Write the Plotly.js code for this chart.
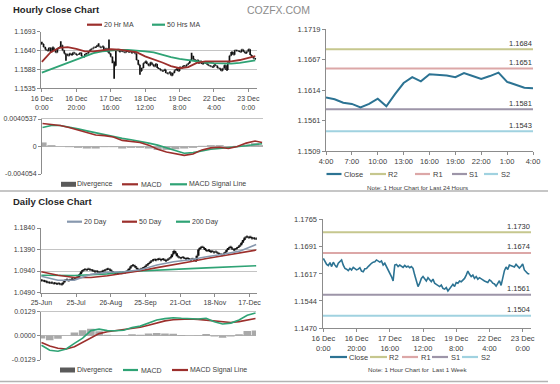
<!DOCTYPE html>
<html><head><meta charset="utf-8">
<script src="https://cdn.plot.ly/plotly-3.0.1.min.js"></script>
<style>html,body{margin:0;padding:0;background:#fff;}#chart{width:560px;height:384px;}</style>
</head><body><div id="chart"></div>
<script>
// ---------------- DATA ----------------
// Hourly closes, 16 Dec 0:00 .. 23 Dec 4:00 (trading hours)
const hourlyClose = [
1.1659,1.1650,1.1643,1.1640,1.1648,1.1637,1.1649,1.1641,1.1635,1.1646,
1.1650,1.1655,1.1641,1.1632,1.1630,1.1626,1.1632,1.1628,1.1635,1.1632,
1.1628,1.1630,1.1634,1.1625,1.1623,1.1631,1.1632,1.1637,1.1643,1.1646,
1.1649,1.1650,1.1655,1.1652,1.1649,1.1652,1.1641,1.1646,1.1637,1.1632,
1.1623,1.1610,1.1598,1.1641,1.1643,1.1637,1.1641,1.1637,1.1635,1.1640,
1.1636,1.1638,1.1634,1.1637,1.1632,1.1614,1.1601,1.1583,1.1592,1.1605,
1.1610,1.1603,1.1598,1.1607,1.1601,1.1596,1.1603,1.1592,1.1589,1.1585,
1.1583,1.1587,1.1578,1.1576,1.1580,1.1571,1.1578,1.1585,1.1589,1.1583,
1.1594,1.1592,1.1598,1.1596,1.1601,1.1605,1.1614,1.1625,1.1616,1.1610,
1.1614,1.1605,1.1610,1.1603,1.1607,1.1605,1.1601,1.1598,1.1596,1.1594,
1.1601,1.1598,1.1592,1.1590,1.1584,1.1590,1.1599,1.1586,1.1607,1.1626,
1.1636,1.1629,1.1641,1.1640,1.1639,1.1636,1.1643,1.1638,1.1633,1.1638,
1.1644,1.1628,1.1623,1.1618,1.1617];
// bar extremes that reach beyond open/close
const hWickIdx = [0, 11, 14, 33, 39, 41, 42, 57, 87];
const hWickHigh = [1.1665, 1.1666, null, 1.1661, 1.1671, null, null, null, 1.1634];
const hWickLow  = [null, null, 1.1612, null, null, 1.1605, 1.1562, 1.1573, null];

const hourTickIdx = [0,20,40,60,80,100,120];
const hourTickText = ['16 Dec<br>0:00','16 Dec<br>20:00','17 Dec<br>16:00','18 Dec<br>12:00','19 Dec<br>8:00','22 Dec<br>4:00','23 Dec<br>0:00'];

const hMaIdx = [0,5,10,15,20,25,30,35,40,45,50,55,60,65,70,75,80,85,90,95,100,105,110,115,120,124];
const ma20h = [1.1609,1.1635,1.1648,1.1650,1.1645,1.1638,1.1638,1.1642,1.1644,1.1643,1.1640,1.1636,1.1624,1.1616,1.1607,1.1597,1.1591,1.1594,1.1606,1.1610,1.1610,1.1608,1.1610,1.1614,1.1621,1.1625];
const ma50h = [1.1579,1.1588,1.1597,1.1607,1.1616,1.1626,1.1633,1.1638,1.1641,1.1642,1.1642,1.1641,1.1638,1.1635,1.1628,1.1622,1.1617,1.1613,1.1610,1.1607,1.1605,1.1604,1.1604,1.1606,1.1609,1.1613];
const macdH = [0.0034,0.0033,0.0031,0.0028,0.0024,0.0020,0.0017,0.0016,0.0014,0.0009,0.0007,0.0006,0.0002,-0.0004,-0.0008,-0.0011,-0.0013,-0.0011,-0.0005,-0.0002,-0.0001,-0.0003,0.0000,0.0005,0.0008,0.0006];
const signalH = [0.0028,0.0031,0.0031,0.0029,0.0026,0.0023,0.0020,0.0017,0.0015,0.0012,0.0010,0.0008,0.0005,0.0002,-0.0002,-0.0007,-0.0010,-0.0009,-0.0006,-0.0004,-0.0003,-0.0002,-0.0001,0.0001,0.0003,0.0004];
const divergenceH = [0.0006,0.0002,0.0000,-0.0001,-0.0002,-0.0003,-0.0003,-0.0001,-0.0001,-0.0003,-0.0002,-0.0002,-0.0003,-0.0005,-0.0005,-0.0004,-0.0003,-0.0002,0.0001,0.0002,0.0002,-0.0001,0.0001,0.0003,0.0005,0.0002];

const last24TickIdx = [0,3,6,9,12,15,18,21,24];
const last24TickText = ['4:00','7:00','10:00','13:00','16:00','19:00','22:00','1:00','4:00'];

const levelNames = ['R2','R1','S1','S2'];
const levels24h = [1.1684, 1.1651, 1.1581, 1.1543];
const levelsWeek = [1.1730, 1.1674, 1.1561, 1.1504];

// Daily closes 25-Jun .. 23-Dec
const dailyClose = [
1.0745,1.0735,1.0725,1.0710,1.0700,1.0690,1.0695,1.0680,1.0685,1.0670,
1.0680,1.0665,1.0660,1.0700,1.0745,1.0760,1.0740,1.0755,1.0770,1.0760,
1.0785,1.0800,1.0820,1.0870,1.0930,1.0960,1.0975,1.0965,1.0985,1.0970,
1.0960,1.0945,1.0930,1.0935,1.0920,1.0910,1.0925,1.0940,1.0955,1.0975,
1.0985,1.0970,1.0940,1.0915,1.0895,1.0880,1.0890,1.0905,1.0895,1.0915,
1.0905,1.0920,1.0950,1.0990,1.1040,1.1060,1.1045,1.1010,1.0970,1.0965,
1.0985,1.1000,1.1020,1.1050,1.1080,1.1110,1.1140,1.1165,1.1180,1.1170,
1.1185,1.1195,1.1170,1.1190,1.1175,1.1155,1.1180,1.1200,1.1230,1.1290,
1.1360,1.1310,1.1250,1.1225,1.1210,1.1230,1.1215,1.1195,1.1210,1.1190,
1.1175,1.1195,1.1170,1.1150,1.1260,1.1390,1.1430,1.1445,1.1420,1.1380,
1.1360,1.1375,1.1340,1.1355,1.1330,1.1345,1.1325,1.1300,1.1290,1.1275,
1.1300,1.1330,1.1380,1.1420,1.1445,1.1410,1.1385,1.1395,1.1420,1.1450,
1.1480,1.1530,1.1590,1.1640,1.1660,1.1640,1.1655,1.1625,1.1630,1.1615,1.1617];
const dayTickIdx = [0,21,42,63,84,105,126];
const dayTickText = ['25-Jun','25-Jul','26-Aug','25-Sep','21-Oct','18-Nov','17-Dec'];

const dMaIdx = [0,10,20,30,40,50,60,70,80,90,100,110,120,130];
const ma20d  = [1.0830,1.0745,1.0750,1.0870,1.0915,1.0925,1.0965,1.1065,1.1134,1.1175,1.1240,1.1290,1.1356,1.1494];
const ma50d  = [1.0925,1.0850,1.0805,1.0805,1.0840,1.0890,1.0945,1.1010,1.1080,1.1135,1.1200,1.1260,1.1320,1.1378];
const ma200d = [1.0850,1.0840,1.0845,1.0860,1.0880,1.0925,1.0945,1.0960,1.0975,1.0990,1.1005,1.1020,1.1035,1.1050];

const dMacdIdx = [0,5,10,15,20,25,30,35,40,45,50,55,60,65,70,75,80,85,90,95,100,105,110,115,120,125,130];
const macdD = [-0.0050,-0.0077,-0.0082,-0.0070,-0.0040,-0.0012,0.0028,0.0036,0.0028,0.0027,0.0030,0.0044,0.0052,0.0070,0.0085,0.0092,0.0097,0.0094,0.0090,0.0090,0.0094,0.0075,0.0063,0.0068,0.0085,0.0110,0.0122];
const signalD = [-0.0036,-0.0054,-0.0066,-0.0070,-0.0058,-0.0035,-0.0010,0.0012,0.0022,0.0028,0.0030,0.0036,0.0046,0.0057,0.0070,0.0080,0.0086,0.0090,0.0090,0.0088,0.0084,0.0078,0.0073,0.0071,0.0076,0.0084,0.0093];
const divergenceD = [-0.0014,-0.0023,-0.0016,0.0000,0.0018,0.0030,0.0038,0.0024,0.0006,0.0000,0.0000,0.0008,0.0006,0.0013,0.0015,0.0012,0.0011,0.0004,0.0000,0.0002,0.0010,-0.0003,-0.0010,-0.0003,0.0009,0.0026,0.0029];

// ---------------- STYLE / LAYOUT ----------------
const W = 560, H = 384;
const F = 'Liberation Sans, Arial, sans-serif';
const tf = (s, c) => ({family: F, size: s, color: c || '#404040'});
const C = {red:'#9c2f2c', green:'#2fa375', close:'#2c7393', R2:'#c6c78e', R1:'#dca7a7', S1:'#9d95a8', S2:'#a0d2e0', d20:'#8798ae', grid:'#c4c4c4', axis:'#8c8c8c'};
const levelColors = [C.R2, C.R1, C.S1, C.S2];
const px = x => x / W, py = y => 1 - y / H;
const dX = (a, b) => [px(a), px(b)], dY = (t, b) => [py(b), py(t)];

function yAx(anchor, dom, range, vals, fmt, grid, extra) {
  return Object.assign({anchor, domain: dY(dom[0], dom[1]), range, tickmode:'array', tickvals: vals,
    ticktext: vals.map(fmt), showgrid: grid, gridcolor: C.grid, gridwidth: 1, zeroline: false,
    showline: true, linecolor: C.axis, linewidth: 1, ticks: 'outside', ticklen: 3, tickcolor: C.axis,
    tickfont: tf(7), fixedrange: true}, extra || {});
}
function xAx(anchor, dom, range, vals, text, extra) {
  return Object.assign({anchor, domain: dX(dom[0], dom[1]), range, tickmode:'array', tickvals: vals || [],
    ticktext: text || [], showgrid: false, zeroline: false, showline: true, linecolor: C.axis, linewidth: 1,
    ticks: 'outside', ticklen: 3, tickcolor: C.axis, tickfont: tf(7), fixedrange: true,
    rangeslider: {visible: false}}, extra || {});
}
const f4 = v => v.toFixed(4);

// derived OHLC (open = previous close)
function ohlc(close, wIdx, wHi, wLo) {
  const o = close.map((c, i) => i === 0 ? c : close[i - 1]);
  const h = close.map((c, i) => Math.max(c, o[i]));
  const l = close.map((c, i) => Math.min(c, o[i]));
  (wIdx || []).forEach((k, j) => {
    if (wHi[j] != null) h[k] = Math.max(h[k], wHi[j]);
    if (wLo[j] != null) l[k] = Math.min(l[k], wLo[j]);
  });
  return {o, h, l};
}
const hb = ohlc(hourlyClose, hWickIdx, hWickHigh, hWickLow);
const db = ohlc(dailyClose);
const idxH = hourlyClose.map((_, i) => i);
const idxD = dailyClose.map((_, i) => i);
const last24 = hourlyClose.slice(-25);
const idx24 = last24.map((_, i) => i);

const X1R = [-0.5, 125], X2R = [-0.3, 124.5], X3R = [0, 24], X4R = [-0.5, 130.5], X5R = [-0.3, 130.3], X6R = [-0.5, 125];

const blkH = {line: {color: '#111', width: 1.7}};
const blkD = {line: {color: '#111', width: 2.3}};
const traces = [
  {type:'ohlc', x: idxH, open: hb.o, high: hb.h, low: hb.l, close: hourlyClose, increasing: blkH, decreasing: blkH, tickwidth: 0.4, xaxis:'x', yaxis:'y'},
  {type:'scatter', mode:'lines', x: hMaIdx, y: ma50h, line:{color: C.green, width: 1.8}, xaxis:'x', yaxis:'y'},
  {type:'scatter', mode:'lines', x: hMaIdx, y: ma20h, line:{color: C.red, width: 1.8}, xaxis:'x', yaxis:'y'},

  {type:'bar', x: hMaIdx, y: divergenceH, width: 4.6, marker:{color:'#a9a9a9'}, xaxis:'x2', yaxis:'y2'},
  {type:'scatter', mode:'lines', x: hMaIdx, y: signalH, line:{color: C.green, width: 1.6}, xaxis:'x2', yaxis:'y2'},
  {type:'scatter', mode:'lines', x: hMaIdx, y: macdH, line:{color: C.red, width: 1.6}, xaxis:'x2', yaxis:'y2'},

  {type:'ohlc', x: idxD, open: db.o, high: db.h, low: db.l, close: dailyClose, increasing: blkD, decreasing: blkD, tickwidth: 0.4, xaxis:'x4', yaxis:'y4'},
  {type:'scatter', mode:'lines', x: dMaIdx, y: ma200d, line:{color: C.green, width: 1.6}, xaxis:'x4', yaxis:'y4'},
  {type:'scatter', mode:'lines', x: dMaIdx, y: ma50d, line:{color: C.red, width: 1.6}, xaxis:'x4', yaxis:'y4'},
  {type:'scatter', mode:'lines', x: dMaIdx, y: ma20d, line:{color: C.d20, width: 1.6}, xaxis:'x4', yaxis:'y4'},

  {type:'bar', x: dMacdIdx, y: divergenceD, width: 4.6, marker:{color:'#a9a9a9'}, xaxis:'x5', yaxis:'y5'},
  {type:'scatter', mode:'lines', x: dMacdIdx, y: signalD, line:{color: C.red, width: 1.6}, xaxis:'x5', yaxis:'y5'},
  {type:'scatter', mode:'lines', x: dMacdIdx, y: macdD, line:{color: C.green, width: 1.6}, xaxis:'x5', yaxis:'y5'}
];
levels24h.forEach((v, i) => traces.push({type:'scatter', mode:'lines', x: X3R, y: [v, v], line:{color: levelColors[i], width: 2}, xaxis:'x3', yaxis:'y3'}));
traces.push({type:'scatter', mode:'lines', x: idx24, y: last24, line:{color: C.close, width: 2}, xaxis:'x3', yaxis:'y3'});
levelsWeek.forEach((v, i) => traces.push({type:'scatter', mode:'lines', x: X6R, y: [v, v], line:{color: levelColors[i], width: 2}, xaxis:'x6', yaxis:'y6'}));
traces.push({type:'scatter', mode:'lines', x: idxH, y: hourlyClose, line:{color: C.close, width: 1.6}, xaxis:'x6', yaxis:'y6'});
traces.forEach(t => { t.showlegend = false; t.hoverinfo = 'skip'; });

const shapes = [], annotations = [];
function sep(y) { shapes.push({type:'line', xref:'paper', yref:'paper', x0: 0, x1: px(548), y0: py(y), y1: py(y), line:{color:'#b3b3b3', width:1.5}}); }
function legLine(x0, x1, y, color) { shapes.push({type:'line', xref:'paper', yref:'paper', x0: px(x0), x1: px(x1), y0: py(y), y1: py(y), line:{color, width: 2.2}}); }
function legBox(x0, x1, y, color) { shapes.push({type:'rect', xref:'paper', yref:'paper', x0: px(x0), x1: px(x1), y0: py(y + 2.5), y1: py(y - 2.5), fillcolor: color, line:{width: 0}}); }
function label(x, y, text, size, opt) {
  annotations.push(Object.assign({xref:'paper', yref:'paper', x: px(x), y: py(y), text, showarrow: false, xanchor:'left', yanchor:'middle', borderpad: 0, font: tf(size)}, opt || {}));
}
sep(191); sep(381.5);

label(12, 10, '<b>Hourly Close Chart</b>', 9.5, {font: tf(9.5, '#262626')});
label(246, 9.5, 'COZFX.COM', 10.5, {font: tf(10.5, '#8c8c8c')});
label(12, 201, '<b>Daily Close Chart</b>', 9.5, {font: tf(9.5, '#262626')});

// legends
legLine(87, 102, 24.7, C.red); label(102.5, 24.7, '20 Hr MA', 7);
legLine(152, 165, 24.7, C.green); label(166, 24.7, '50 Hrs MA', 7);

legBox(61, 76, 184.3, '#5a5a5a'); label(76, 184.3, 'Divergence', 7);
legLine(122, 138, 184.3, C.red); label(139.5, 184.3, 'MACD', 7);
legLine(170, 187, 184.3, C.green); label(187.5, 184.3, 'MACD Signal Line', 7);

const leg3 = [[326.5, 341.5, 342.5], [370, 386, 387], [415, 430, 431.5], [452, 467, 468], [484, 498, 499.5]];
const leg6 = [[330, 347, 348], [370, 387, 388], [402, 418, 419.5], [432, 448, 449.5], [462, 478, 479.5]];
const legNames = ['Close'].concat(levelNames), legCols = [C.close].concat(levelColors);
leg3.forEach((p, i) => { legLine(p[0], p[1], 174, legCols[i]); label(p[2], 174, legNames[i], 7.5); });
leg6.forEach((p, i) => { legLine(p[0], p[1], 357, legCols[i]); label(p[2], 357, legNames[i], 7.5); });
label(417, 187, 'Note: 1 Hour Chart for Last 24 Hours', 6.2, {xanchor:'center'});
label(417, 369, 'Note: 1 Hour Chart for  Last 1 Week', 6.2, {xanchor:'center'});

legLine(67, 82, 221.7, C.d20); label(83, 221.7, '20 Day', 7);
legLine(122, 137, 221.7, C.red); label(137.5, 221.7, '50 Day', 7);
legLine(176, 190, 221.7, C.green); label(191, 221.7, '200 Day', 7);

legBox(60, 75, 370, '#5a5a5a'); label(76, 370, 'Divergence', 7);
legLine(123, 138, 370, C.green); label(139.5, 370, 'MACD', 7);
legLine(172, 188, 370, C.red); label(189, 370, 'MACD Signal Line', 7);

// level value labels
levels24h.forEach(v => annotations.push({xref:'x3', yref:'y3', x: X3R[1], y: v, text: f4(v), showarrow:false, xanchor:'right', yanchor:'bottom', yshift: 0.5, borderpad: 0, font: tf(7.5, '#333')}));
levelsWeek.forEach(v => annotations.push({xref:'x6', yref:'y6', x: X6R[1], y: v, text: f4(v), showarrow:false, xanchor:'right', yanchor:'bottom', yshift: 0.5, borderpad: 0, font: tf(7.5, '#333')}));

const layout = {
  width: W, height: H, margin: {l:0, r:0, t:0, b:0}, paper_bgcolor:'#fff', plot_bgcolor:'#fff',
  showlegend: false, font: {family: F}, barmode:'overlay', shapes, annotations,
  xaxis:  xAx('y',  [41, 257],    X1R, hourTickIdx, hourTickText),
  yaxis:  yAx('x',  [31.7, 88.3], [1.1535, 1.1693], [1.1535, 1.1588, 1.1640, 1.1693], f4, true),
  xaxis2: xAx('y2', [42, 263],    X2R, [], [], {side:'top', linecolor: C.grid, ticks:'', showticklabels:false}),
  yaxis2: yAx('x2', [119, 174],   [-0.004054, 0.0040537], [-0.004054, 0, 0.0040537], v => v === 0 ? '0' : (v > 0 ? '0.0040537' : '-0.004054'), false, {zeroline: true, zerolinecolor:'#b5b5b5', zerolinewidth: 1}),
  xaxis3: xAx('y3', [326, 533],   X3R, last24TickIdx, last24TickText, {tickfont: tf(7.5)}),
  yaxis3: yAx('x3', [29, 151],    [1.1509, 1.1719], [1.1509, 1.1561, 1.1614, 1.1667, 1.1719], f4, false, {tickfont: tf(7.5)}),
  xaxis4: xAx('y4', [40.5, 257],  X4R, dayTickIdx, dayTickText),
  yaxis4: yAx('x4', [228, 292.5], [1.0490, 1.1840], [1.0490, 1.0940, 1.1390, 1.1840], f4, true),
  xaxis5: xAx('y5', [41, 256],    X5R, [], [], {side:'top', linecolor: C.grid, ticks:'', showticklabels:false}),
  yaxis5: yAx('x5', [311.7, 360], [-0.0129, 0.0129], [-0.0129, 0, 0.0129], f4, false, {zeroline: true, zerolinecolor:'#b5b5b5', zerolinewidth: 1}),
  xaxis6: xAx('y6', [322.5, 531], X6R, hourTickIdx, hourTickText, {tickfont: tf(7.5)}),
  yaxis6: yAx('x6', [219.3, 328.3], [1.1470, 1.1765], [1.1470, 1.1544, 1.1617, 1.1691, 1.1765], f4, false, {tickfont: tf(7.5)})
};
Plotly.newPlot('chart', traces, layout, {displayModeBar: false, staticPlot: true});
</script>
</body></html>
